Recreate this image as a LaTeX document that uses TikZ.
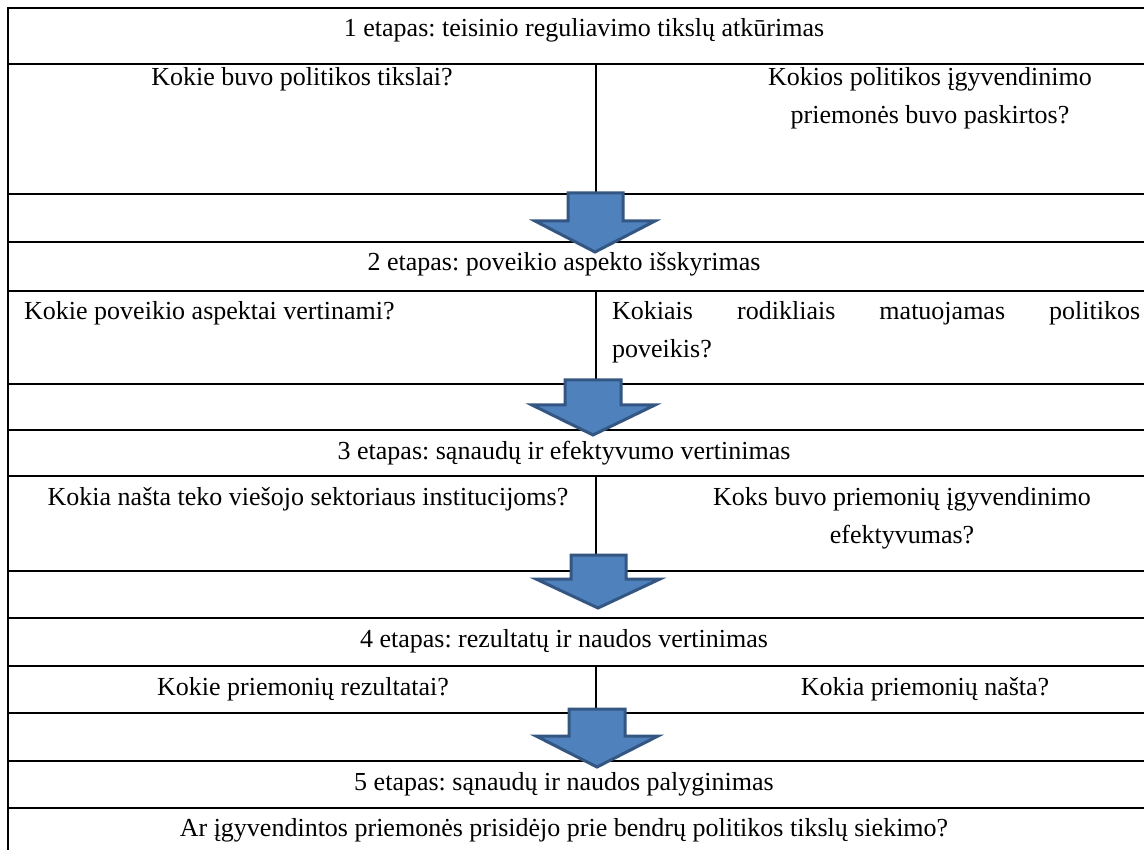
\documentclass[tikz,border=0pt]{standalone}
\usepackage{fontspec}
\setmainfont{Liberation Serif}
\frenchspacing
\definecolor{arrowfill}{RGB}{79,129,189}
\definecolor{arrowline}{RGB}{52,86,130}
\begin{document}
\begin{tikzpicture}[x=1pt,y=-1pt,
  gridline/.style={line width=1.9pt, black},
  txt/.style={anchor=base, inner sep=0pt, font=\fontsize{26}{38}\selectfont},
  barrow/.style={fill=arrowfill, draw=arrowline, line width=3pt, line join=miter}]
\useasboundingbox (0,0) rectangle (1144,850);
\fill[white] (0,0) rectangle (1144,850);
\begin{scope}
\clip (0,0) rectangle (1144,850);
% table grid
\draw[gridline] (8,8) -- (8,860);
\foreach \yy in {8,64,194,242,291,384,430,476,571,618,666,713,761,808}
  \draw[gridline] (7,\yy) -- (1150,\yy);
\draw[gridline] (596,64) -- (596,194);
\draw[gridline] (596,291) -- (596,384);
\draw[gridline] (596,476) -- (596,571);
\draw[gridline] (596,666) -- (596,713);
% texts
\node[txt] (t1) at (584,37) {1 etapas: teisinio reguliavimo tikslų atkūrimas};
\node[txt] (q1a) at (302,86) {Kokie buvo politikos tikslai?};
\node[txt] (q1b1) at (930,86) {Kokios politikos įgyvendinimo};
\node[txt] (q1b2) at (930,124) {priemonės buvo paskirtos?};
\node[txt] (t2) at (564,271) {2 etapas: poveikio aspekto išskyrimas};
\node[txt, anchor=base west] (q2a) at (24,320) {Kokie poveikio aspektai vertinami?};
\node[txt, anchor=base west] (q2b) at (612,320) {\parbox[t]{528pt}{\fontsize{26}{38}\selectfont Kokiais rodikliais matuojamas politikos\linebreak poveikis?}};
\node[txt] (t3) at (564,459) {3 etapas: sąnaudų ir efektyvumo vertinimas};
\node[txt] (q3a) at (308,505) {Kokia našta teko viešojo sektoriaus institucijoms?};
\node[txt] (q3b1) at (902,505) {Koks buvo priemonių įgyvendinimo};
\node[txt] (q3b2) at (902,543) {efektyvumas?};
\node[txt] (t4) at (564,647) {4 etapas: rezultatų ir naudos vertinimas};
\node[txt] (q4a) at (303,695) {Kokie priemonių rezultatai?};
\node[txt] (q4b) at (925,695) {Kokia priemonių našta?};
\node[txt] (t5) at (564,790) {5 etapas: sąnaudų ir naudos palyginimas};
\node[txt] (q5) at (564,836) {Ar įgyvendintos priemonės prisidėjo prie bendrų politikos tikslų siekimo?};
% block arrows
\draw[barrow] (568,193) -- (623,193) -- (623,221) -- (655,221) -- (595,252) -- (535,221) -- (568,221) -- cycle;
\draw[barrow] (565,380) -- (621,380) -- (621,405) -- (655,405) -- (593,435) -- (532,405) -- (565,405) -- cycle;
\draw[barrow] (571,555) -- (626,555) -- (626,579) -- (660,579) -- (598,608) -- (536,579) -- (571,579) -- cycle;
\draw[barrow] (569,709) -- (625,709) -- (625,736) -- (658,736) -- (597,767) -- (536,736) -- (569,736) -- cycle;
\end{scope}
\end{tikzpicture}
\end{document}
